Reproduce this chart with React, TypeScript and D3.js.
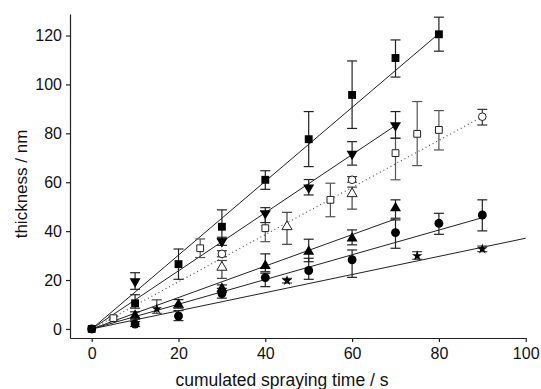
import React, { useRef, useEffect } from 'react';
import * as d3 from 'd3';

interface Pt { t: number; v: number; lo: number; hi: number; }

// thickness (nm) vs cumulated spraying time (s), with error bars
const filledSquares: Pt[] = [
    { t: 0, v: 0, lo: 0, hi: 0 },
    { t: 10, v: 10.5, lo: 8.5, hi: 14 },
    { t: 20, v: 26.5, lo: 20.3, hi: 32.7 },
    { t: 30, v: 41.8, lo: 36.8, hi: 48.7 },
    { t: 40, v: 61, lo: 57.1, hi: 64.7 },
    { t: 50, v: 77.6, lo: 66.4, hi: 88.9 },
    { t: 60, v: 95.7, lo: 82, hi: 109.6 },
    { t: 70, v: 110.8, lo: 103, hi: 118.2 },
    { t: 80, v: 120.5, lo: 113.6, hi: 127.5 },
];
const filledDown: Pt[] = [
    { t: 10, v: 19.4, lo: 16.2, hi: 23 },
    { t: 30, v: 35.8, lo: 34.2, hi: 37.5 },
    { t: 40, v: 47.3, lo: 43.5, hi: 49.6 },
    { t: 50, v: 57.8, lo: 54.8, hi: 61.1 },
    { t: 60, v: 71.6, lo: 67, hi: 76.6 },
    { t: 70, v: 83.2, lo: 78, hi: 88.9 },
];
const openSquares: Pt[] = [
    { t: 5, v: 4.4, lo: 3.6, hi: 5.2 },
    { t: 25, v: 33, lo: 29.2, hi: 36.8 },
    { t: 40, v: 41.2, lo: 35.7, hi: 48 },
    { t: 55, v: 52.8, lo: 45.9, hi: 59.6 },
    { t: 70, v: 71.9, lo: 61, hi: 78 },
    { t: 75, v: 79.8, lo: 66.8, hi: 93 },
    { t: 80, v: 81.4, lo: 73.2, hi: 89.3 },
];
const openCircles: Pt[] = [
    { t: 30, v: 30.7, lo: 29.5, hi: 32 },
    { t: 60, v: 61, lo: 60, hi: 62.3 },
    { t: 90, v: 86.8, lo: 83.4, hi: 89.8 },
];
const openTriangles: Pt[] = [
    { t: 30, v: 25.2, lo: 20.7, hi: 28 },
    { t: 45, v: 41.8, lo: 34.6, hi: 47.7 },
    { t: 60, v: 55.3, lo: 49, hi: 58 },
];
const filledUp: Pt[] = [
    { t: 10, v: 5.5, lo: 4, hi: 7 },
    { t: 20, v: 10, lo: 8.5, hi: 12 },
    { t: 30, v: 16.5, lo: 15, hi: 18 },
    { t: 40, v: 25.8, lo: 23.4, hi: 30.7 },
    { t: 50, v: 31.6, lo: 27.5, hi: 36.7 },
    { t: 60, v: 37.1, lo: 34.4, hi: 40.5 },
    { t: 70, v: 49.4, lo: 45.3, hi: 52.8 },
];
const filledCircles: Pt[] = [
    { t: 0, v: 0, lo: 0, hi: 0 },
    { t: 10, v: 2, lo: 1, hi: 3 },
    { t: 20, v: 5.3, lo: 3.4, hi: 7.5 },
    { t: 30, v: 14.5, lo: 12.6, hi: 16.6 },
    { t: 40, v: 21, lo: 17.3, hi: 22.8 },
    { t: 50, v: 23.9, lo: 20.3, hi: 28.9 },
    { t: 60, v: 28.3, lo: 21.1, hi: 32.3 },
    { t: 70, v: 39.4, lo: 33, hi: 44.6 },
    { t: 80, v: 43.2, lo: 38.7, hi: 47.3 },
    { t: 90, v: 46.6, lo: 40.1, hi: 52.8 },
];
const stars: Pt[] = [
    { t: 15, v: 8.2, lo: 6.4, hi: 11.9 },
    { t: 45, v: 19.8, lo: 18.8, hi: 20.7 },
    { t: 75, v: 29.9, lo: 28.5, hi: 31.6 },
    { t: 90, v: 32.7, lo: 31.6, hi: 33.9 },
];

// linear fits through the origin: [end time, end thickness]
const fitEnds: [number, number][] = [[80, 120.8], [70, 83.2], [90, 86.8], [70, 45], [90, 45.5], [100, 37.1]];
const fitDotted = [false, false, true, false, false, false];

const xTicks = [0, 20, 40, 60, 80, 100];
const yTicks = [0, 20, 40, 60, 80, 100, 120];

type Marker = 'square' | 'down' | 'up' | 'circle' | 'star';
const SERIES: { data: Pt[]; marker: Marker; filled: boolean; bar: string }[] = [
    { data: stars, marker: 'star', filled: true, bar: '#444' },
    { data: filledCircles, marker: 'circle', filled: true, bar: '#222' },
    { data: filledUp, marker: 'up', filled: true, bar: '#222' },
    { data: openTriangles, marker: 'up', filled: false, bar: '#444' },
    { data: openCircles, marker: 'circle', filled: false, bar: '#333' },
    { data: openSquares, marker: 'square', filled: false, bar: '#555' },
    { data: filledDown, marker: 'down', filled: true, bar: '#222' },
    { data: filledSquares, marker: 'square', filled: true, bar: '#222' },
];

const FONT = '"Liberation Sans", Arial, sans-serif';

const App: React.FC = () => {
    const svgRef = useRef<SVGSVGElement | null>(null);

    useEffect(() => {
        if (!svgRef.current) return;
        const width = 541;
        const height = 389;
        const svg = d3.select(svgRef.current);
        svg.selectAll('*').remove();
        svg.attr('width', width).attr('height', height);

        const x = d3.scaleLinear().domain([-5, 100]).range([70, 525.7]);
        const y = d3.scaleLinear().domain([-3.7, 128.8]).range([338, 14]);

        // --- AXES ---
        const xAxis = svg.append('g')
            .attr('transform', `translate(0, ${y(-3.7)})`)
            .call(d3.axisBottom(x).tickValues(xTicks).tickSize(4).tickSizeOuter(0).tickPadding(6));
        const yAxis = svg.append('g')
            .attr('transform', `translate(${x(-5)}, 0)`)
            .call(d3.axisLeft(y).tickValues(yTicks).tickSize(4).tickSizeOuter(0).tickPadding(4));
        [xAxis, yAxis].forEach(a => {
            a.selectAll('path, line').attr('stroke', '#222').attr('stroke-width', 1.2);
            a.selectAll('text').attr('fill', '#111').style('font-family', FONT).style('font-size', '16px');
        });

        svg.append('text')
            .attr('x', 282).attr('y', 386)
            .attr('text-anchor', 'middle')
            .style('font-family', FONT).style('font-size', '17.5px').attr('fill', '#111')
            .text('cumulated spraying time / s');
        svg.append('text')
            .attr('transform', 'translate(26.5, 184) rotate(-90)')
            .attr('text-anchor', 'middle')
            .style('font-family', FONT).style('font-size', '17px').attr('fill', '#111')
            .text('thickness / nm');

        // --- FIT LINES ---
        svg.append('g').selectAll('line.fit')
            .data(fitEnds)
            .join('line')
            .attr('class', 'fit')
            .attr('x1', x(0)).attr('y1', y(0))
            .attr('x2', d => x(d[0])).attr('y2', d => y(d[1]))
            .attr('stroke', (_, i) => fitDotted[i] ? '#555' : '#222')
            .attr('stroke-width', (_, i) => fitDotted[i] ? 1.2 : 1)
            .attr('stroke-dasharray', (_, i) => fitDotted[i] ? '1,3' : null);

        // --- ERROR BARS ---
        const cap = 5;
        SERIES.forEach(s => {
            const g = svg.append('g').attr('stroke', s.bar).attr('stroke-width', 1.2);
            const pts = s.data.filter(d => d.hi > d.lo);
            g.selectAll('line.v').data(pts).join('line')
                .attr('x1', d => x(d.t)).attr('x2', d => x(d.t))
                .attr('y1', d => y(d.lo)).attr('y2', d => y(d.hi));
            g.selectAll('line.top').data(pts).join('line')
                .attr('x1', d => x(d.t) - cap).attr('x2', d => x(d.t) + cap)
                .attr('y1', d => y(d.hi)).attr('y2', d => y(d.hi));
            g.selectAll('line.bot').data(pts).join('line')
                .attr('x1', d => x(d.t) - cap).attr('x2', d => x(d.t) + cap)
                .attr('y1', d => y(d.lo)).attr('y2', d => y(d.lo));
        });

        // --- MARKERS ---
        const symbolFor = (m: Marker, filled: boolean) => {
            switch (m) {
                case 'square': return d3.symbol(d3.symbolSquare, filled ? 62 : 46)();
                case 'circle': return d3.symbol(d3.symbolCircle, filled ? 62 : 46)();
                case 'up':
                case 'down': return d3.symbol(d3.symbolTriangle, filled ? 52 : 44)();
                case 'star': return d3.symbol(d3.symbolStar, 34)();
            }
        };
        SERIES.forEach(s => {
            svg.append('g').selectAll('path.m')
                .data(s.data)
                .join('path')
                .attr('d', symbolFor(s.marker, s.filled) as string)
                .attr('transform', d => `translate(${x(d.t)}, ${y(d.v)})${s.marker === 'down' ? ' rotate(180)' : ''}`)
                .attr('fill', s.filled ? '#000' : '#fff')
                .attr('stroke', s.filled ? 'none' : '#222')
                .attr('stroke-width', 1);
        });
    }, []);

    return (
        <div style={{ position: 'absolute', left: 0, top: 0, background: '#fff' }}>
            <svg ref={svgRef}></svg>
        </div>
    );
};

export default App;
